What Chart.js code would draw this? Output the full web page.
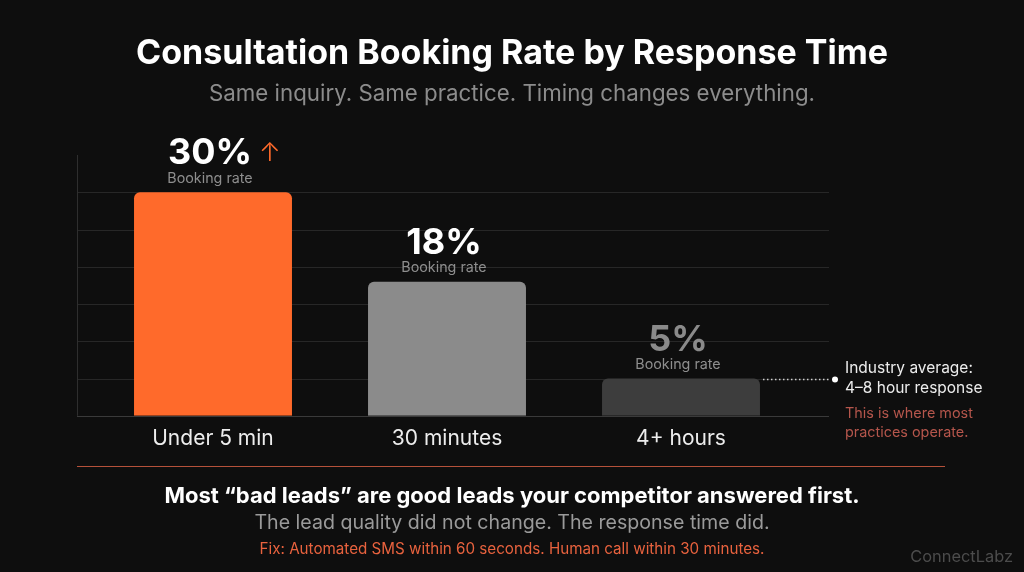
<!DOCTYPE html>
<html>
<head>
<meta charset="utf-8">
<script src="https://cdn.jsdelivr.net/npm/chart.js@4"></script>
<style>
  html, body {
    margin: 0;
    padding: 0;
    background: #0e0e0e;
  }
  #wrap {
    position: relative;
    width: 1024px;
    height: 572px;
    overflow: hidden;
    font-family: Inter, "Noto Sans", sans-serif;
  }
  #wrap canvas {
    position: absolute;
    left: 0;
    top: 0;
  }
  .txt {
    position: absolute;
    left: 0;
    width: 1024px;
    text-align: center;
    white-space: nowrap;
  }
  #title {
    top: 32px;
    font-size: 34px;
    line-height: 40px;
    font-weight: 700;
    color: #ffffff;
  }
  #subtitle {
    top: 79px;
    font-size: 22.3px;
    line-height: 28px;
    color: #8c8c8c;
  }
  #divider {
    position: absolute;
    left: 77px;
    top: 466px;
    width: 868px;
    height: 1px;
    background: #b5513a;
  }
  #foot1 {
    top: 481px;
    font-size: 22px;
    line-height: 28px;
    font-weight: 700;
    color: #ffffff;
  }
  #foot2 {
    top: 510px;
    font-size: 19.6px;
    line-height: 24px;
    color: #9a9a9a;
  }
  #foot3 {
    top: 539px;
    font-size: 15.2px;
    line-height: 20px;
    color: #e8623e;
  }
  #brand {
    position: absolute;
    right: 11px;
    top: 545px;
    font-size: 16.4px;
    line-height: 22px;
    color: #4c4c4c;
  }
</style>
</head>
<body>
<div id="wrap">
  <canvas id="bookingChart" width="1024" height="572"></canvas>
  <div class="txt" id="title">Consultation Booking Rate by Response Time</div>
  <div class="txt" id="subtitle">Same inquiry. Same practice. Timing changes everything.</div>
  <div id="divider"></div>
  <div class="txt" id="foot1">Most “bad leads” are good leads your competitor answered first.</div>
  <div class="txt" id="foot2">The lead quality did not change. The response time did.</div>
  <div class="txt" id="foot3">Fix: Automated SMS within 60 seconds. Human call within 30 minutes.</div>
  <div id="brand">ConnectLabz</div>
</div>

<script>
// data
const categories = ["Under 5 min", "30 minutes", "4+ hours"];
const bookingRates = [30, 18, 5];
const barColors = ["#ff6a2b", "#8b8b8b", "#3d3d3d"];
const valueColors = ["#ffffff", "#ffffff", "#8a8a8a"];
const gridValues = [0, 5, 10, 15, 20, 25, 30];
const axisMax = 35;

const noteLines = ["Industry average:", "4–8 hour response"];
const noteRedLines = ["This is where most", "practices operate."];

const FONT = "Inter, 'Noto Sans', sans-serif";

// grid + axis line, wider than the category band
const gridPlugin = {
    id: "gridLines",
    beforeDatasetsDraw(chart) {
        const ctx = chart.ctx;
        const y = chart.scales.y;
        const left = 77;
        const right = 829;

        ctx.save();
        ctx.lineWidth = 1;

        gridValues.forEach(v => {
            const py = Math.round(y.getPixelForValue(v)) + 0.5;
            ctx.strokeStyle = v === 0 ? "#3a3a3a" : "#272727";
            ctx.beginPath();
            ctx.moveTo(left, py);
            ctx.lineTo(right, py);
            ctx.stroke();
        });

        ctx.strokeStyle = "#2e2e2e";
        ctx.beginPath();
        ctx.moveTo(left + 0.5, y.getPixelForValue(axisMax));
        ctx.lineTo(left + 0.5, y.getPixelForValue(0));
        ctx.stroke();

        ctx.restore();
    }
};

// value + "Booking rate" above each bar, note beside the last one
const labelPlugin = {
    id: "barLabels",
    afterDatasetsDraw(chart) {
        const ctx = chart.ctx;
        const bars = chart.getDatasetMeta(0).data;

        ctx.save();
        ctx.textAlign = "center";

        bars.forEach((bar, i) => {
            const cx = bar.x - 3;
            const top = bar.y;

            ctx.font = "400 14.3px " + FONT;
            ctx.fillStyle = "#8e8e8e";
            ctx.textBaseline = "middle";
            ctx.fillText("Booking rate", cx, top - 14);

            const valueText = bookingRates[i] + "%";
            ctx.font = "700 36px " + FONT;
            ctx.fillStyle = valueColors[i];
            ctx.textBaseline = "alphabetic";
            ctx.fillText(valueText, cx, top - 28);

            if (i === 0) {
                const w = ctx.measureText(valueText).width;
                ctx.font = "300 26px " + FONT;
                ctx.fillStyle = barColors[0];
                ctx.textAlign = "left";
                ctx.fillText("↑", cx + w / 2 + 7, top - 31);
                ctx.textAlign = "center";
            }
        });

        // industry average note at the 4+ hours bar
        const last = bars[bars.length - 1];
        const ly = Math.round(last.y) + 0.5;
        const x0 = last.x + last.width / 2 + 3;
        const x1 = 830;

        ctx.strokeStyle = "#cfcfcf";
        ctx.lineWidth = 1.5;
        ctx.setLineDash([1.5, 2.5]);
        ctx.beginPath();
        ctx.moveTo(x0, ly);
        ctx.lineTo(x1, ly);
        ctx.stroke();
        ctx.setLineDash([]);

        ctx.fillStyle = "#ffffff";
        ctx.beginPath();
        ctx.arc(835, ly, 3, 0, Math.PI * 2);
        ctx.fill();

        ctx.textAlign = "left";
        ctx.textBaseline = "middle";
        ctx.font = "400 15.5px " + FONT;
        ctx.fillStyle = "#ececec";
        noteLines.forEach((t, k) => {
            ctx.fillText(t, 845, ly - 11 + k * 20);
        });

        ctx.font = "400 14.4px " + FONT;
        ctx.fillStyle = "#b5564c";
        noteRedLines.forEach((t, k) => {
            ctx.fillText(t, 845, ly + 34 + k * 19);
        });

        ctx.restore();
    }
};

const ctx = document.getElementById("bookingChart");

const chart = new Chart(ctx, {
    type: "bar",

    data: {
        labels: categories,

        datasets: [{
            data: bookingRates,
            backgroundColor: barColors,
            borderRadius: { topLeft: 6, topRight: 6, bottomLeft: 0, bottomRight: 0 },
            borderSkipped: "bottom",
            barPercentage: 0.675,
            categoryPercentage: 1
        }]
    },

    options: {
        responsive: false,
        animation: false,
        devicePixelRatio: 1,

        layout: {
            padding: {
                left: 96,
                right: 226,
                top: 155,
                bottom: 119
            }
        },

        plugins: {
            legend: { display: false },
            tooltip: { enabled: false }
        },

        scales: {
            x: {
                grid: { display: false },
                border: { display: false },
                ticks: {
                    color: "#ededed",
                    padding: 2,
                    font: { family: FONT, size: 21 }
                }
            },

            y: {
                display: false,
                min: 0,
                max: axisMax
            }
        }
    },

    plugins: [gridPlugin, labelPlugin]
});
</script>
</body>
</html>
